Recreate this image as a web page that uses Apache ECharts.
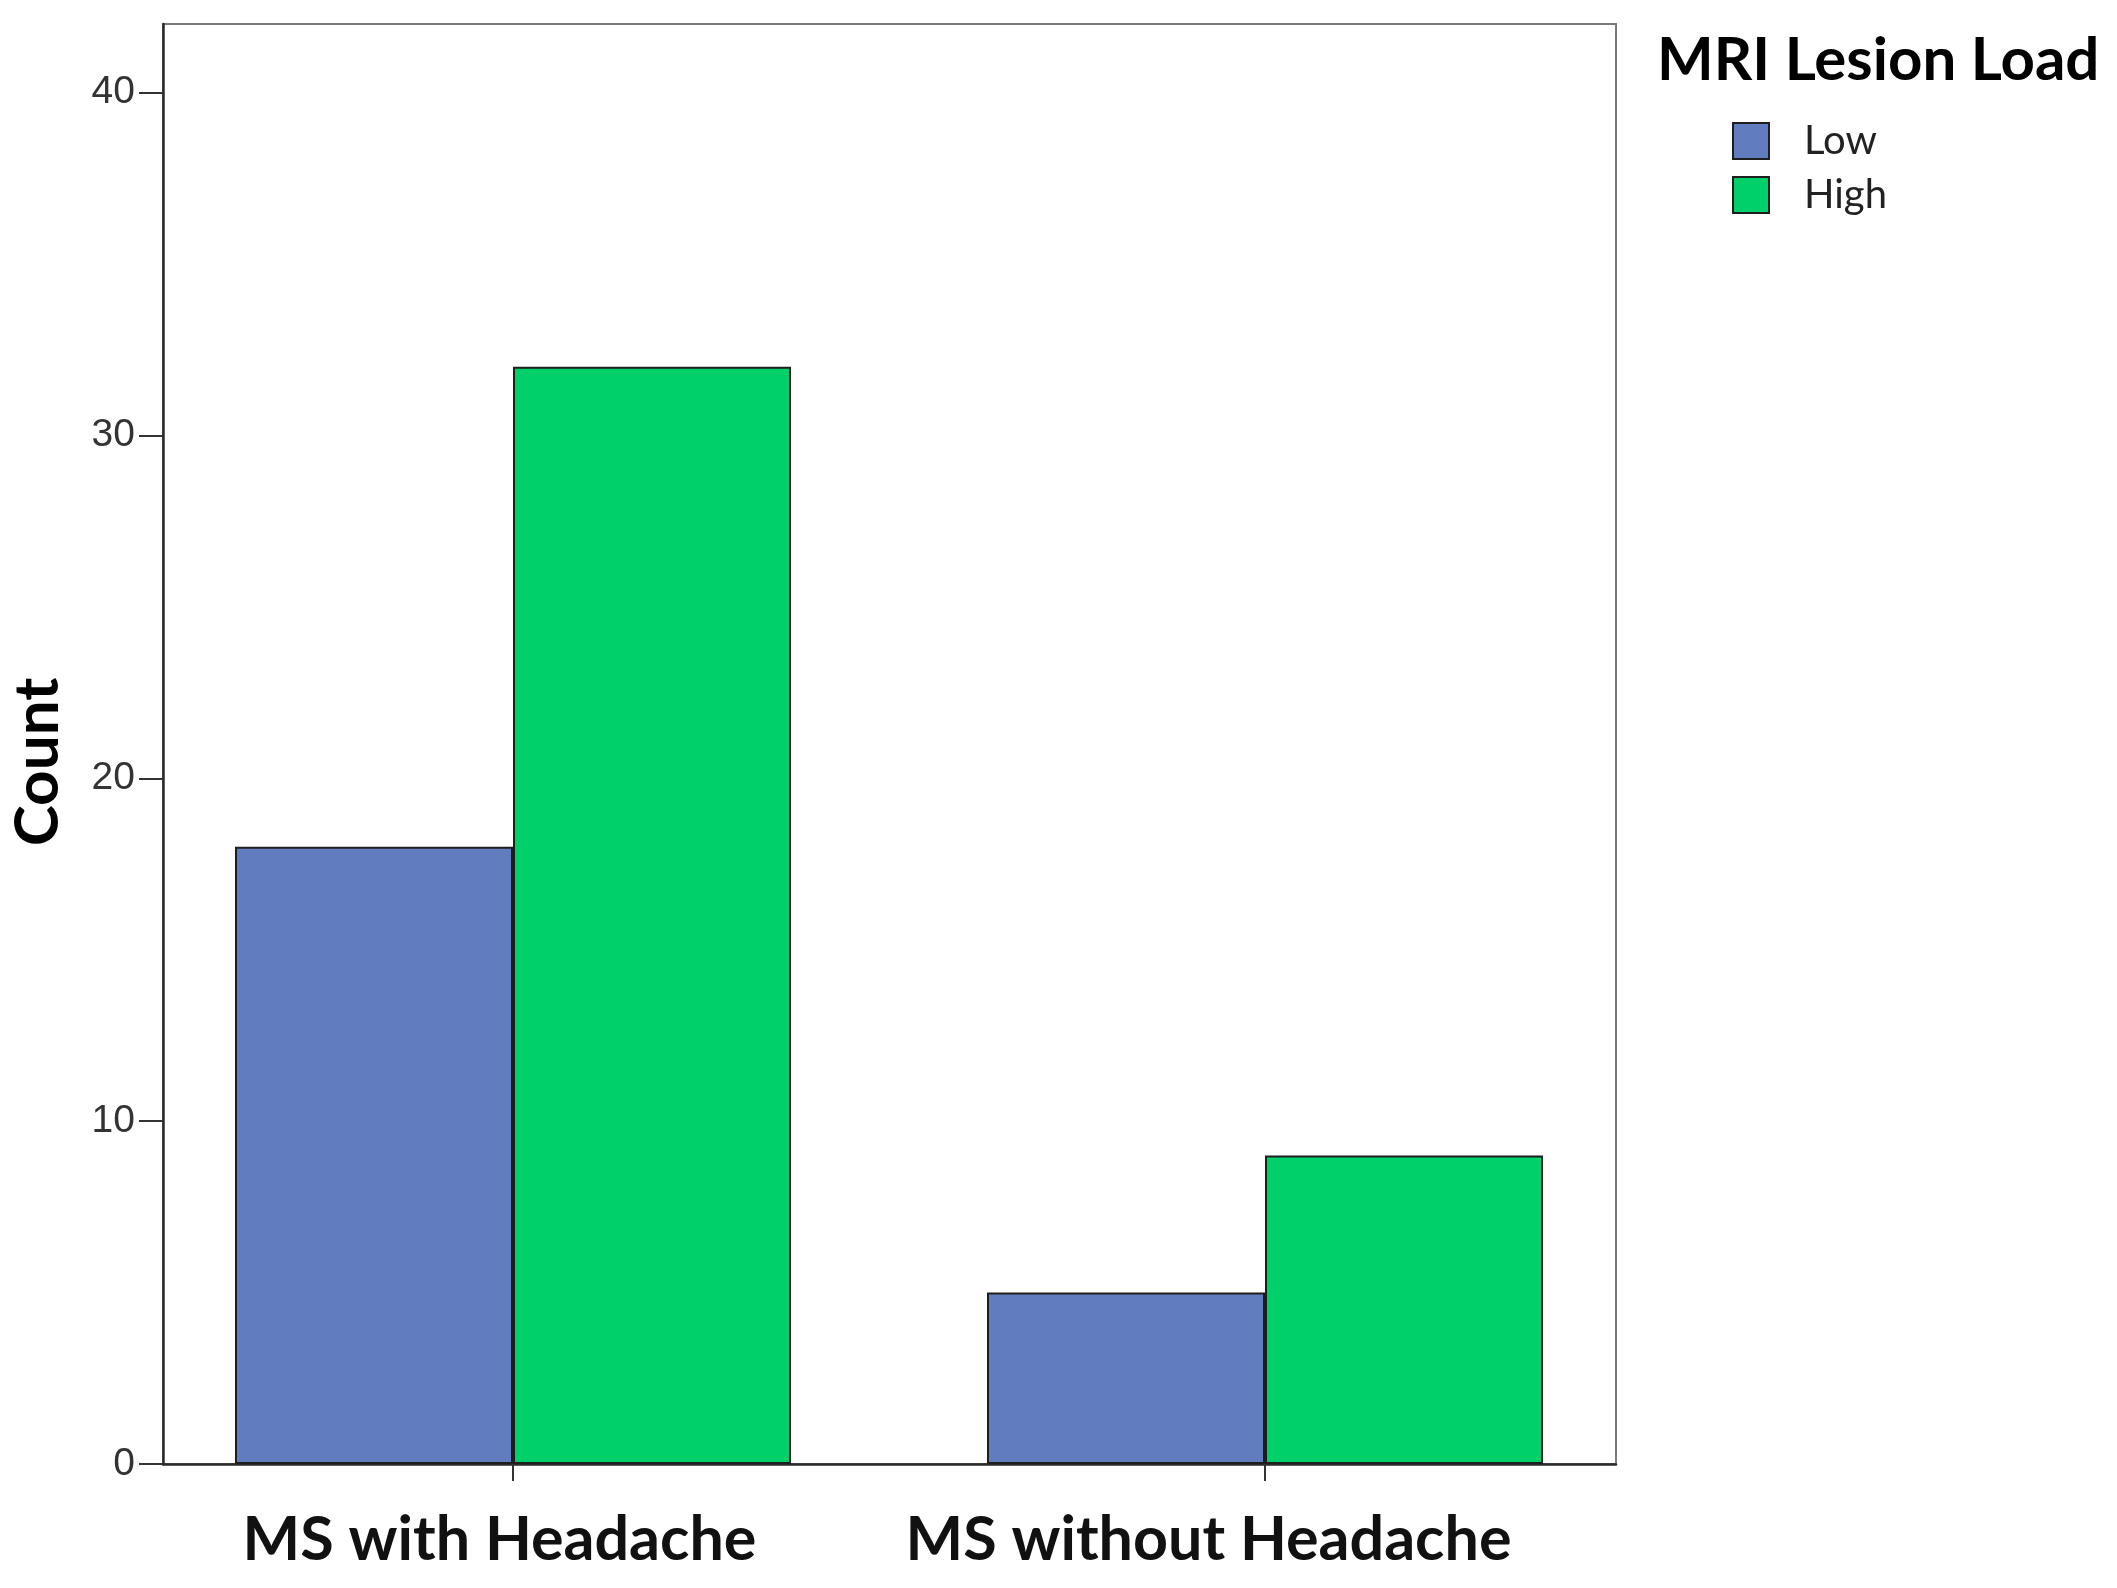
<!DOCTYPE html>
<html>
<head>
<meta charset="utf-8">
<script src="https://cdn.jsdelivr.net/npm/echarts@6/dist/echarts.min.js"></script>
<style>
html,body{margin:0;padding:0;background:#fff;}
#chart{width:2117px;height:1588px;}
</style>
</head>
<body>
<div id="chart"></div>
<script>
const categories = ['MS with Headache', 'MS without Headache'];
const seriesNames = ['Low', 'High'];
const lowValues = [18, 5];
const highValues = [32, 9];
const yTicks = [0, 10, 20, 30, 40];
const yMax = 42;

const chart = echarts.init(document.getElementById('chart'));
const barBorder = {borderColor: '#1e1e1e', borderWidth: 2};
chart.setOption({
  animation: false,
  backgroundColor: '#ffffff',
  title: {
    text: 'MRI Lesion Load',
    left: 1652, top: 26,
    textStyle: {fontFamily: 'Lato', fontWeight: 'bold', fontSize: 60, color: '#000'}
  },
  legend: {
    orient: 'vertical',
    left: 1727, top: 116,
    itemWidth: 36, itemHeight: 36, itemGap: 14,
    icon: 'rect',
    data: seriesNames,
    textStyle: {fontFamily: 'Lato', fontSize: 40, color: '#222', padding: [0, 0, 0, 30]}
  },
  grid: [
    {left: 137, right: 476, top: 24, bottom: 124, show: false, outerBoundsMode: 'none', containLabel: false},
    {left: 163, right: 501, top: 24, bottom: 124, show: true, borderColor: '#7a7a7a', borderWidth: 2, backgroundColor: 'transparent', z: 0, outerBoundsMode: 'none', containLabel: false}
  ],
  xAxis: [
    {
      type: 'category', gridIndex: 0, data: categories,
      axisLine: {show: false},
      axisTick: {show: true, alignWithLabel: true, length: 17, lineStyle: {color: '#333', width: 2}},
      axisLabel: {
        margin: 46,
        formatter: function (v, i) { return (i === 0 ? '{a|' : '{b|') + v + '}'; },
        rich: {
          a: {fontFamily: 'Lato', fontWeight: 'bold', fontSize: 61, color: '#111', padding: [0, 27, 0, 0]},
          b: {fontFamily: 'Lato', fontWeight: 'bold', fontSize: 61, color: '#111', padding: [0, 113, 0, 0]}
        }
      }
    },
    {
      type: 'category', gridIndex: 1, data: categories,
      axisLine: {show: true, lineStyle: {color: '#2a2a2a', width: 2.5}},
      axisTick: {show: false}, axisLabel: {show: false}
    }
  ],
  yAxis: [
    {
      type: 'value', gridIndex: 0, min: 0, max: yMax, show: false, splitLine: {show: false}
    },
    {
      type: 'value', gridIndex: 1, min: 0, max: yMax,
      name: 'Count', nameLocation: 'middle', nameRotate: 90, nameGap: 94,
      nameTextStyle: {fontFamily: 'Lato', fontWeight: 'bold', fontSize: 62, color: '#000', padding: [0, 36, 0, 0]},
      axisLine: {show: true, lineStyle: {color: '#2a2a2a', width: 2.5}},
      axisTick: {show: true, length: 24, customValues: yTicks, lineStyle: {color: '#333', width: 2}},
      axisLabel: {customValues: yTicks, fontFamily: 'Liberation Sans', fontSize: 39, color: '#333', margin: 28, padding: [16, 0, 0, 0]},
      splitLine: {show: false}
    }
  ],
  series: [
    {name: 'Low', type: 'bar', xAxisIndex: 0, yAxisIndex: 0, data: lowValues, barWidth: 278, barGap: '0%',
     itemStyle: Object.assign({color: '#617dc0'}, barBorder)},
    {name: 'High', type: 'bar', xAxisIndex: 0, yAxisIndex: 0, data: highValues, barWidth: 278, barGap: '0%',
     itemStyle: Object.assign({color: '#00d06a'}, barBorder)}
  ]
});
</script>
</body>
</html>
